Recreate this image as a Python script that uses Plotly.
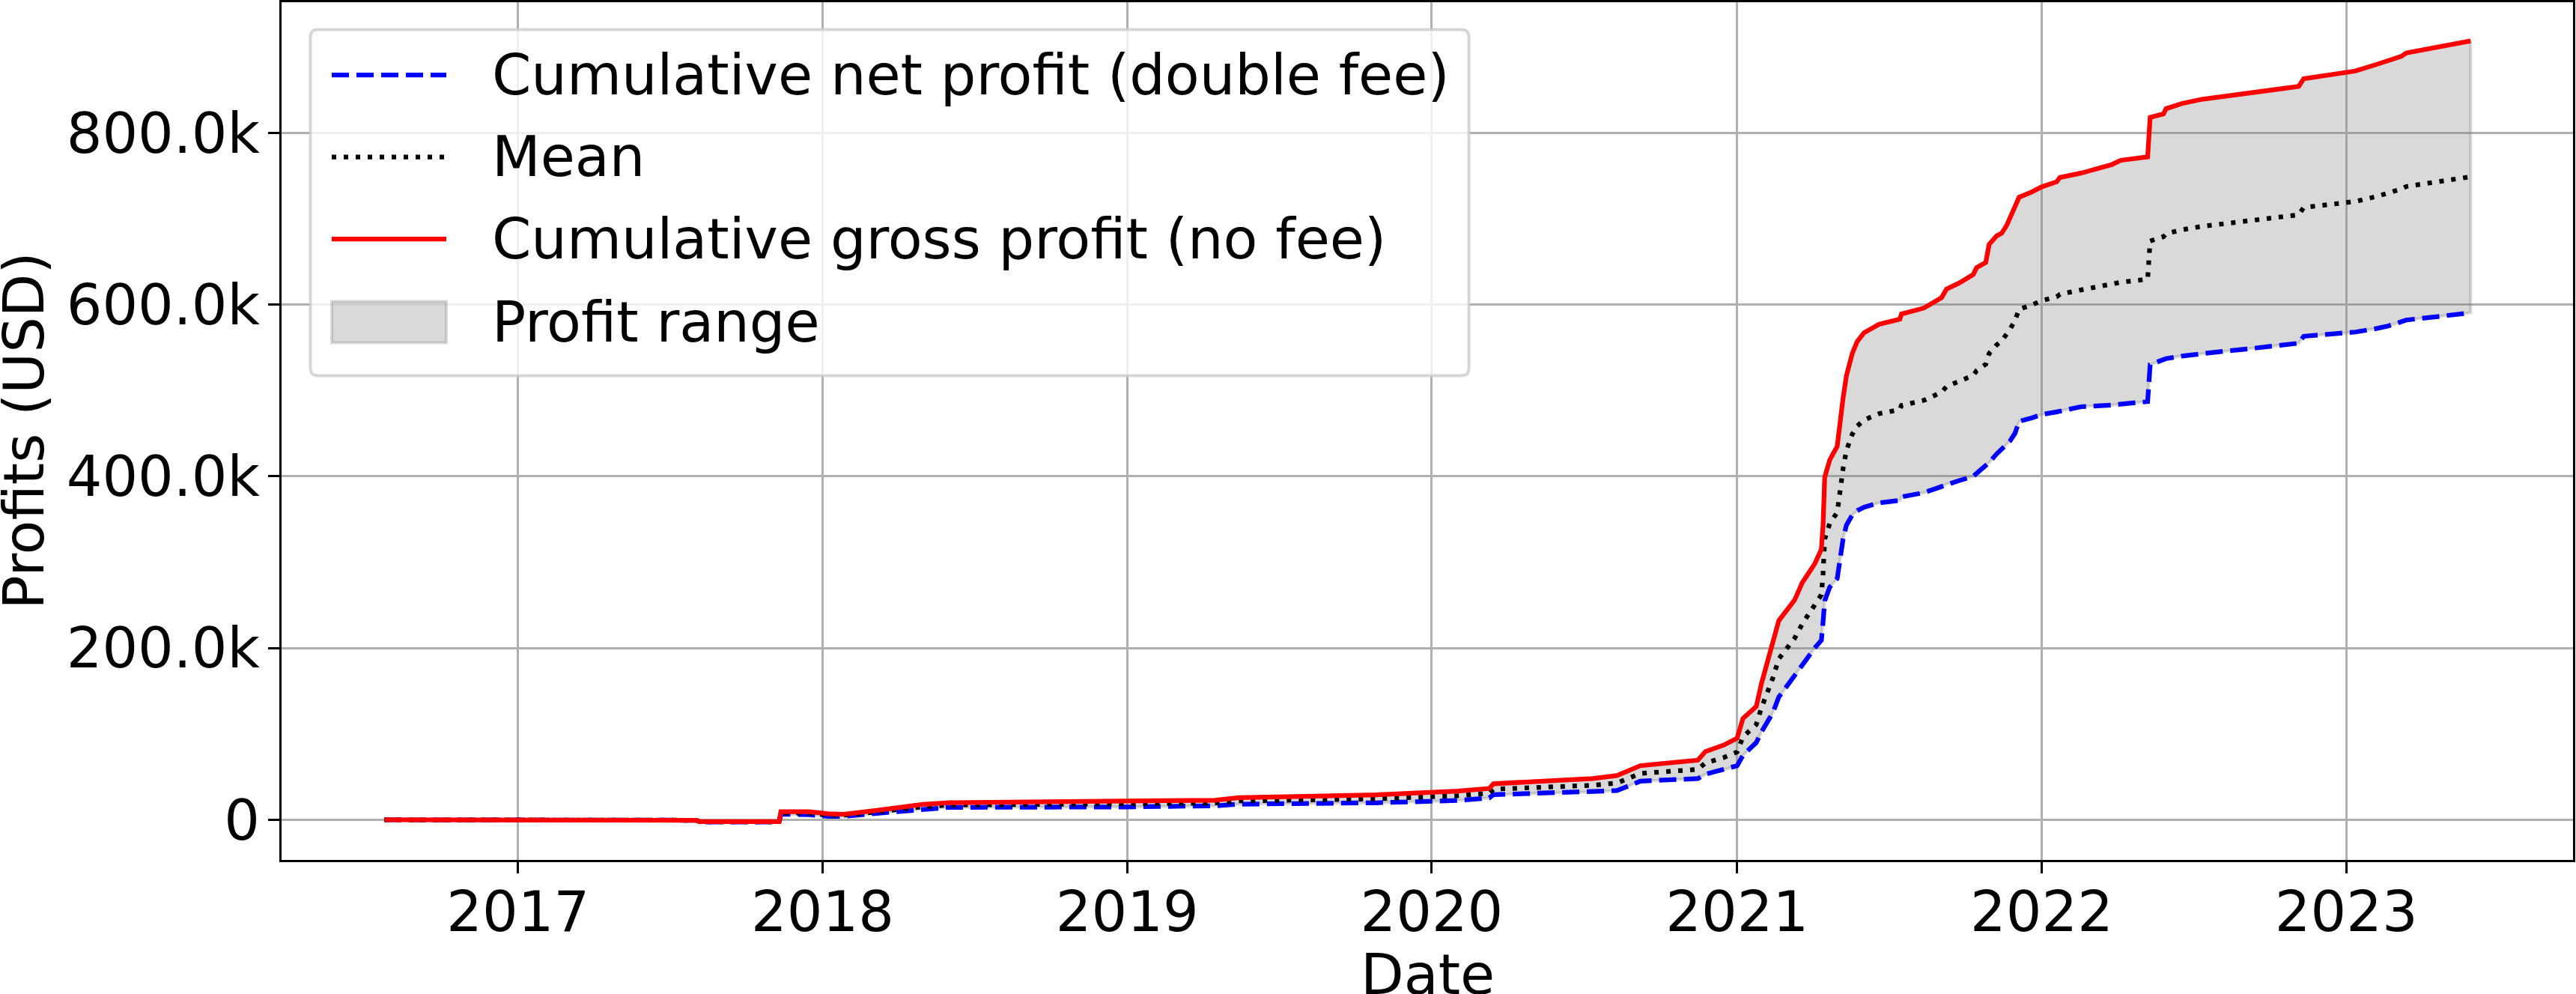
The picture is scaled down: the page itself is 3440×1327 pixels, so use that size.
import plotly.graph_objects as go

# ---------------- data (values in thousands of USD) ----------------
dates = [
    "2016-07-25", "2017-08-03", "2017-08-07", "2017-11-10", "2017-11-12",
    "2017-12-16", "2018-01-08", "2018-01-26", "2018-03-07", "2018-05-01",
    "2018-06-02", "2018-12-27", "2019-04-16", "2019-05-15", "2019-10-26",
    "2020-02-01", "2020-03-10", "2020-03-15", "2020-07-12", "2020-08-10",
    "2020-09-07", "2020-11-15", "2020-11-24", "2020-12-16", "2021-01-01",
    "2021-01-08", "2021-01-24", "2021-01-30", "2021-02-13", "2021-02-20",
    "2021-03-11", "2021-03-20", "2021-04-04", "2021-04-12", "2021-04-14",
    "2021-04-16", "2021-04-22", "2021-05-01", "2021-05-08", "2021-05-12",
    "2021-05-19", "2021-05-25", "2021-06-02", "2021-06-20", "2021-07-15",
    "2021-07-17", "2021-08-13", "2021-09-03", "2021-09-09", "2021-09-24",
    "2021-10-11", "2021-10-15", "2021-10-26", "2021-10-30", "2021-11-08",
    "2021-11-14", "2021-11-20", "2021-11-24", "2021-11-30", "2021-12-05",
    "2021-12-20", "2022-01-01", "2022-01-19", "2022-01-23", "2022-02-17",
    "2022-03-26", "2022-04-06", "2022-05-08", "2022-05-11", "2022-05-27",
    "2022-05-30", "2022-06-18", "2022-07-12", "2022-08-11", "2022-09-11",
    "2022-11-05", "2022-11-11", "2023-01-01", "2023-01-12", "2023-02-06",
    "2023-02-20", "2023-03-08", "2023-03-14", "2023-04-21", "2023-05-30",
]

gross_profit = [
    0.0, -0.5, -2.0, -2.0, 9.5,
    9.5, 7.0, 6.5, 11.0, 18.0,
    20.0, 21.8, 22.8, 25.8, 29.0,
    33.5, 36.5, 42.0, 48.0, 51.5,
    63.0, 69.5, 79.5, 87.0, 95.0,
    118.0, 132.0, 158.0, 206.0, 232.0,
    256.0, 276.0, 298.0, 315.0, 343.0,
    399.0, 419.0, 435.0, 491.0, 517.0,
    543.0, 557.0, 567.0, 577.0, 583.0,
    589.0, 596.0, 608.0, 618.0, 625.0,
    635.0, 643.0, 649.0, 670.0, 680.0,
    683.0, 692.0, 701.0, 713.0, 725.0,
    731.0, 737.0, 743.0, 748.0, 753.0,
    763.0, 768.0, 772.0, 818.0, 822.0,
    828.0, 834.0, 839.0, 843.0, 848.0,
    854.0, 863.0, 869.5, 872.0, 879.5,
    884.0, 889.0, 893.0, 900.0, 907.0,
]

net_profit = [
    0.0, -0.5, -2.5, -2.5, 6.5,
    6.0, 4.0, 4.0, 7.5, 12.5,
    14.5, 15.0, 16.3, 18.2, 19.8,
    22.5, 25.5, 29.3, 32.5, 34.0,
    45.0, 48.0, 53.0, 58.0, 63.0,
    75.0, 90.0, 102.0, 125.0, 143.0,
    167.0, 180.0, 200.0, 209.0, 230.0,
    255.0, 271.0, 281.0, 327.0, 343.0,
    355.0, 360.0, 364.0, 369.0, 372.0,
    376.0, 381.0, 388.0, 391.0, 395.0,
    400.0, 403.0, 412.0, 416.0, 426.0,
    432.0, 437.0, 441.0, 450.0, 464.0,
    468.0, 472.0, 475.0, 476.0, 481.0,
    483.0, 484.0, 487.0, 530.0, 536.0,
    537.0, 540.0, 543.0, 546.0, 549.0,
    555.0, 563.0, 567.0, 568.0, 572.0,
    575.0, 580.0, 582.0, 586.0, 590.5,
]

mean_profit = [(g + n) / 2.0 for g, n in zip(gross_profit, net_profit)]

year_ticks = ["2017-01-01", "2018-01-01", "2019-01-01", "2020-01-01",
              "2021-01-01", "2022-01-01", "2023-01-01"]
year_labels = ["2017", "2018", "2019", "2020", "2021", "2022", "2023"]
y_ticks = [0, 200, 400, 600, 800]
y_labels = ["0", "200.0k", "400.0k", "600.0k", "800.0k"]

x_title = "Date"
y_title = "Profits (USD)"
legend_labels = ["Cumulative net profit (double fee)", "Mean",
                 "Cumulative gross profit (no fee)", "Profit range"]

# ---------------- layout geometry (pixels) ----------------
W, H = 3440, 1327
L, R, T, B = 376, 3436, 3, 1148
FONT = "DejaVu Sans"
FS = 75
LW = 6.25
FILL = "rgba(128,128,128,0.3)"

def px(x):
    return (x - L) / (R - L)

def py(y):
    return (B - y) / (B - T)

fig = go.Figure()

# profit range (filled band between gross and net)
fig.add_trace(go.Scatter(
    x=dates + dates[::-1],
    y=gross_profit + net_profit[::-1],
    fill="toself", fillcolor=FILL,
    line=dict(color=FILL, width=4),
    mode="lines", name=legend_labels[3], showlegend=False, hoverinfo="skip",
))
fig.add_trace(go.Scatter(
    x=dates, y=net_profit, mode="lines", name=legend_labels[0],
    line=dict(color="#0000ff", width=LW, dash="23px,10px"), showlegend=False,
))
fig.add_trace(go.Scatter(
    x=dates, y=mean_profit, mode="lines", name=legend_labels[1],
    line=dict(color="#000000", width=LW, dash="6px,10px"), showlegend=False,
))
fig.add_trace(go.Scatter(
    x=dates, y=gross_profit, mode="lines", name=legend_labels[2],
    line=dict(color="#ff0000", width=LW), showlegend=False,
))

axis_common = dict(
    showgrid=True, gridcolor="#b0b0b0", gridwidth=3.3,
    showline=True, linecolor="black", linewidth=3.3, mirror=True,
    ticks="outside", ticklen=15, tickwidth=3.3, tickcolor="black",
    tickfont=dict(family=FONT, size=FS, color="black"),
    zeroline=False, automargin=False,
)

fig.update_layout(
    width=W, height=H,
    margin=dict(l=L, r=W - R, t=T, b=H - B, pad=0, autoexpand=False),
    paper_bgcolor="white", plot_bgcolor="white",
    font=dict(family=FONT, size=FS, color="black"),
    showlegend=False,
    xaxis=dict(
        type="date",
        range=["2016-03-23 16:00", "2023-09-29 18:00"],
        tickvals=year_ticks, ticktext=year_labels,
        ticklabelstandoff=-13,
        **axis_common,
    ),
    yaxis=dict(
        range=[-46.7, 952.0],
        tickvals=y_ticks, ticktext=y_labels,
        ticklabelstandoff=-4,
        **axis_common,
    ),
)

# ---------------- legend (drawn manually, matplotlib style) ----------------
bx0, bx1, by0, by1 = 414.5, 1961.5, 39.5, 501.5
rad = 10
X0, X1 = px(bx0), px(bx1)
Y0, Y1 = py(by1), py(by0)
rx, ry = rad / (R - L), rad / (B - T)
path = (f"M {X0+rx},{Y1} L {X1-rx},{Y1} Q {X1},{Y1} {X1},{Y1-ry} "
        f"L {X1},{Y0+ry} Q {X1},{Y0} {X1-rx},{Y0} L {X0+rx},{Y0} "
        f"Q {X0},{Y0} {X0},{Y0+ry} L {X0},{Y1-ry} Q {X0},{Y1} {X0+rx},{Y1} Z")
shapes = [dict(type="path", xref="paper", yref="paper", path=path,
               fillcolor="rgba(255,255,255,0.8)",
               line=dict(color="rgba(204,204,204,0.8)", width=4), layer="above")]

rows = [100, 209.5, 319, 430]
hx0, hx1 = 443, 596
shapes.append(dict(type="line", xref="paper", yref="paper",
                   x0=px(hx0), x1=px(hx1), y0=py(rows[0]), y1=py(rows[0]),
                   line=dict(color="#0000ff", width=LW, dash="23px,10px"), layer="above"))
shapes.append(dict(type="line", xref="paper", yref="paper",
                   x0=px(hx0), x1=px(hx1), y0=py(rows[1]), y1=py(rows[1]),
                   line=dict(color="#000000", width=LW, dash="6px,10px"), layer="above"))
shapes.append(dict(type="line", xref="paper", yref="paper",
                   x0=px(hx0), x1=px(hx1), y0=py(rows[2]), y1=py(rows[2]),
                   line=dict(color="#ff0000", width=LW), layer="above"))
shapes.append(dict(type="rect", xref="paper", yref="paper",
                   x0=px(hx0), x1=px(hx1), y0=py(457.5), y1=py(402.5),
                   fillcolor=FILL, line=dict(color=FILL, width=4), layer="above"))

annotations = []
for lab, ry_ in zip(legend_labels, rows):
    annotations.append(dict(
        text=lab, x=px(655), y=py(ry_), xref="paper", yref="paper",
        xanchor="left", yanchor="middle", showarrow=False,
        font=dict(family=FONT, size=FS, color="black"),
    ))

# axis titles (placed like matplotlib's)
annotations.append(dict(
    text=x_title, x=0.5, y=py(1301), xref="paper", yref="paper",
    xanchor="center", yanchor="middle", showarrow=False,
    font=dict(family=FONT, size=FS, color="black"),
))
annotations.append(dict(
    text=y_title, x=px(31), y=0.5, xref="paper", yref="paper",
    xanchor="center", yanchor="middle", showarrow=False, textangle=-90,
    font=dict(family=FONT, size=FS, color="black"),
))

fig.update_layout(shapes=shapes, annotations=annotations)

fig.write_html("out.html")
